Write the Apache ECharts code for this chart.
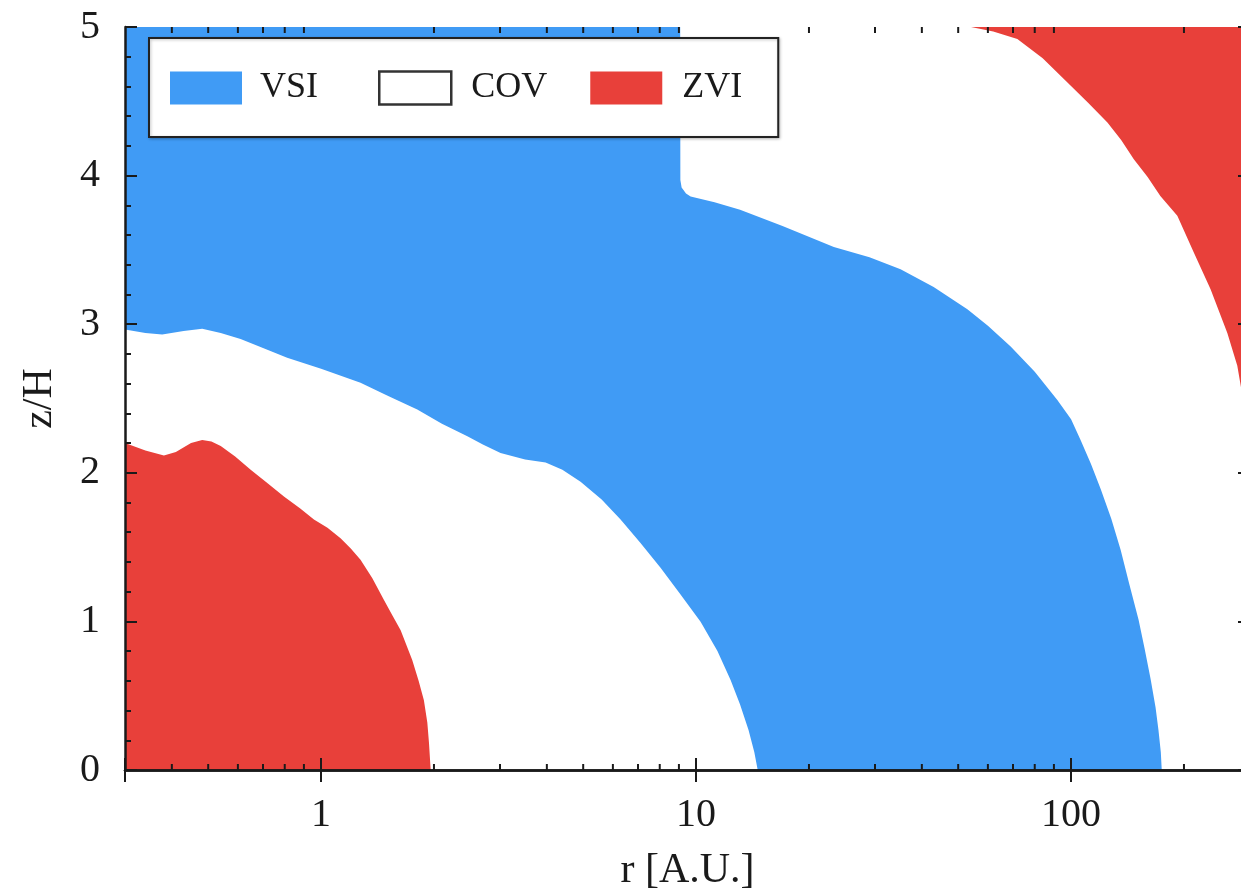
<!DOCTYPE html>
<html>
<head>
<meta charset="utf-8">
<script src="https://cdn.jsdelivr.net/npm/echarts@6/dist/echarts.min.js"></script>
<style>
html,body{margin:0;padding:0;background:#fff;overflow:hidden;}
#chart{width:1241px;height:896px;}
</style>
</head>
<body>
<div id="chart"></div>
<script>
// ---- data (r in A.U., z/H) ----
var legendNames = ['VSI', 'COV', 'ZVI'];
var xTickLabels = [1, 10, 100];
var xMinorTicks = [0.4,0.5,0.6,0.7,0.8,0.9,2,3,4,5,6,7,8,9,20,30,40,50,60,70,80,90,200];
// upper boundary of the VSI zone
var vsiUpper = [[0.3,5],[9.07,5],[9.08,3.97],[9.15,3.92],[9.4,3.88],[9.67,3.86],[11.2,3.82],[13.1,3.77],[17,3.66],[23.3,3.52],[29,3.45],[35.1,3.37],[43,3.25],[52.9,3.10],[60,2.99],[69,2.85],[80,2.68],[91.9,2.49],[100,2.36],[106,2.22],[113,2.06],[120,1.89],[128,1.69],[135.6,1.48],[143,1.25],[151.4,1.01],[157,0.82],[163,0.61],[168,0.42],[171,0.27],[173.5,0.12],[174.5,0]];
// lower boundary of the VSI zone (upper edge of the inner COV zone)
var vsiLower = [[0.3,2.965],[0.34,2.94],[0.377,2.93],[0.43,2.955],[0.482,2.97],[0.54,2.94],[0.61,2.90],[0.70,2.84],[0.812,2.774],[1.0,2.70],[1.274,2.606],[1.5,2.52],[1.805,2.426],[2.1,2.33],[2.455,2.246],[2.7,2.19],[3.01,2.134],[3.5,2.09],[3.97,2.069],[4.4,2.02],[4.92,1.94],[5.6,1.82],[6.29,1.685],[7.1,1.53],[8.04,1.361],[9.1,1.18],[10.28,0.997],[11.4,0.80],[12.36,0.606],[13.1,0.44],[13.8,0.27],[14.3,0.12],[14.6,0]];
// inner ZVI zone boundary
var zviInner = [[0.3,2.20],[0.34,2.15],[0.381,2.116],[0.41,2.14],[0.45,2.20],[0.482,2.22],[0.51,2.21],[0.54,2.18],[0.59,2.11],[0.649,2.02],[0.72,1.93],[0.796,1.84],[0.88,1.76],[0.957,1.685],[1.04,1.63],[1.127,1.56],[1.2,1.49],[1.274,1.415],[1.37,1.29],[1.47,1.146],[1.55,1.04],[1.63,0.94],[1.75,0.74],[1.82,0.60],[1.88,0.47],[1.92,0.32],[1.94,0.18],[1.96,0]];
// outer ZVI zone boundary (zone lies above it)
var zviOuter = [[54.1,5],[62,4.97],[71.9,4.92],[84,4.79],[97.8,4.627],[111,4.49],[125,4.358],[136,4.24],[147,4.11],[160,3.99],[173,3.863],[192,3.73],[212.6,3.48],[235.5,3.235],[261,2.94],[277.5,2.72],[285,2.55],[300,2.35]];

var BLUE = '#409bf5', RED = '#e8403a', INK = '#1a1a1a';
var FONT = 'Liberation Serif';

var chart = echarts.init(document.getElementById('chart'), null, {renderer:'canvas'});

function areaSeries(name, data, color, origin, z) {
  return {
    name: name, type: 'line', data: data, xAxisIndex: 0, yAxisIndex: 0,
    showSymbol: false, symbol: 'none', smooth: false,
    lineStyle: {width: 0, color: color}, itemStyle: {color: color},
    areaStyle: {color: color, opacity: 1, origin: origin},
    z: z, silent: true, animation: false
  };
}

var tickStyle = {color: INK, width: 2};
var option = {
  animation: false,
  backgroundColor: '#fff',
  grid: {left: 125, top: 27, bottom: 126, right: -9, containLabel: false, outerBoundsMode: 'none'},
  legend: {
    left: 149, top: 38,
    orient: 'horizontal',
    data: [
      {name: 'VSI', icon: 'rect', itemStyle: {color: BLUE, borderWidth: 0}, textStyle: {padding: [0, 17, 0, 13]}},
      {name: 'COV', icon: 'rect', itemStyle: {color: '#ffffff', borderColor: '#333', borderWidth: 2.5}, textStyle: {padding: [0, 0, 0, 15]}},
      {name: 'ZVI', icon: 'rect', itemStyle: {color: RED, borderWidth: 0}, textStyle: {padding: [0, 0, 0, 15]}}
    ],
    itemWidth: 72, itemHeight: 33, itemGap: 43,
    padding: [32, 36, 31, 21],
    backgroundColor: '#fff', borderColor: '#222', borderWidth: 2,
    shadowColor: 'rgba(0,0,0,0.25)', shadowBlur: 3, shadowOffsetX: 1, shadowOffsetY: 1,
    textStyle: {fontFamily: FONT, fontSize: 36, color: INK, lineHeight: 33},
    selectedMode: false, z: 20
  },
  xAxis: [{
    type: 'log', logBase: 10, min: 0.3, max: 300, position: 'bottom', z: 10,
    name: 'r [A.U.]', nameLocation: 'middle', nameGap: 80,
    nameTextStyle: {fontFamily: FONT, fontSize: 42, color: INK},
    axisLine: {show: true, lineStyle: {color: INK, width: 2.5}},
    axisTick: {show: true, inside: true, length: 12, lineStyle: tickStyle},
    axisLabel: {fontFamily: FONT, fontSize: 40, color: INK, margin: 25,
      formatter: function (v) { var r = Math.round(v); return (xTickLabels.indexOf(r) >= 0 && Math.abs(v - r) < 1e-6) ? String(r) : ''; }},
    splitLine: {show: false}
  }, {
    type: 'log', logBase: 10, min: 0.3, max: 300, position: 'top', z: 10,
    axisLine: {show: true, lineStyle: {color: INK, width: 2.5}},
    axisTick: {show: true, inside: true, length: 12, lineStyle: tickStyle},
    axisLabel: {show: false}, splitLine: {show: false}
  }],
  yAxis: [{
    type: 'value', min: 0, max: 5, interval: 1, position: 'left', z: 10,
    name: 'z/H', nameLocation: 'middle', nameGap: 64, nameRotate: 90,
    nameTextStyle: {fontFamily: FONT, fontSize: 42, color: INK},
    axisLine: {show: true, lineStyle: {color: INK, width: 2.5}},
    axisTick: {show: true, inside: true, length: 12, lineStyle: tickStyle},
    minorTick: {show: true, splitNumber: 5, length: 6, lineStyle: tickStyle},
    axisLabel: {fontFamily: FONT, fontSize: 40, color: INK, margin: 25},
    splitLine: {show: false}, minorSplitLine: {show: false}
  }, {
    type: 'value', min: 0, max: 5, interval: 1, position: 'right', z: 10,
    axisLine: {show: true, lineStyle: {color: INK, width: 2.5}},
    axisTick: {show: true, inside: true, length: 12, lineStyle: tickStyle},
    minorTick: {show: true, splitNumber: 5, length: 6, lineStyle: tickStyle},
    axisLabel: {show: false}, splitLine: {show: false}
  }],
  series: [
    areaSeries('VSI', vsiUpper, BLUE, 'start', 2),
    areaSeries('COV', vsiLower, '#ffffff', 'start', 3),
    areaSeries('ZVI', zviInner, RED, 'start', 4),
    areaSeries('ZVI', zviOuter, RED, 'end', 4),
    {
      name: 'minorTicks', type: 'custom', xAxisIndex: 0, yAxisIndex: 0, z: 12, silent: true,
      clip: false,
      data: xMinorTicks.map(function (v) { return [v]; }),
      encode: {x: 0},
      renderItem: function (params, api) {
        var v = api.value(0);
        var b = api.coord([v, 0]);
        var t = api.coord([v, 5]);
        return {type: 'group', children: [
          {type: 'line', shape: {x1: b[0], y1: b[1], x2: b[0], y2: b[1] - 6}, style: {stroke: INK, lineWidth: 2}},
          {type: 'line', shape: {x1: t[0], y1: t[1], x2: t[0], y2: t[1] + 6}, style: {stroke: INK, lineWidth: 2}}
        ]};
      }
    }
  ]
};
chart.setOption(option);
</script>
</body>
</html>
